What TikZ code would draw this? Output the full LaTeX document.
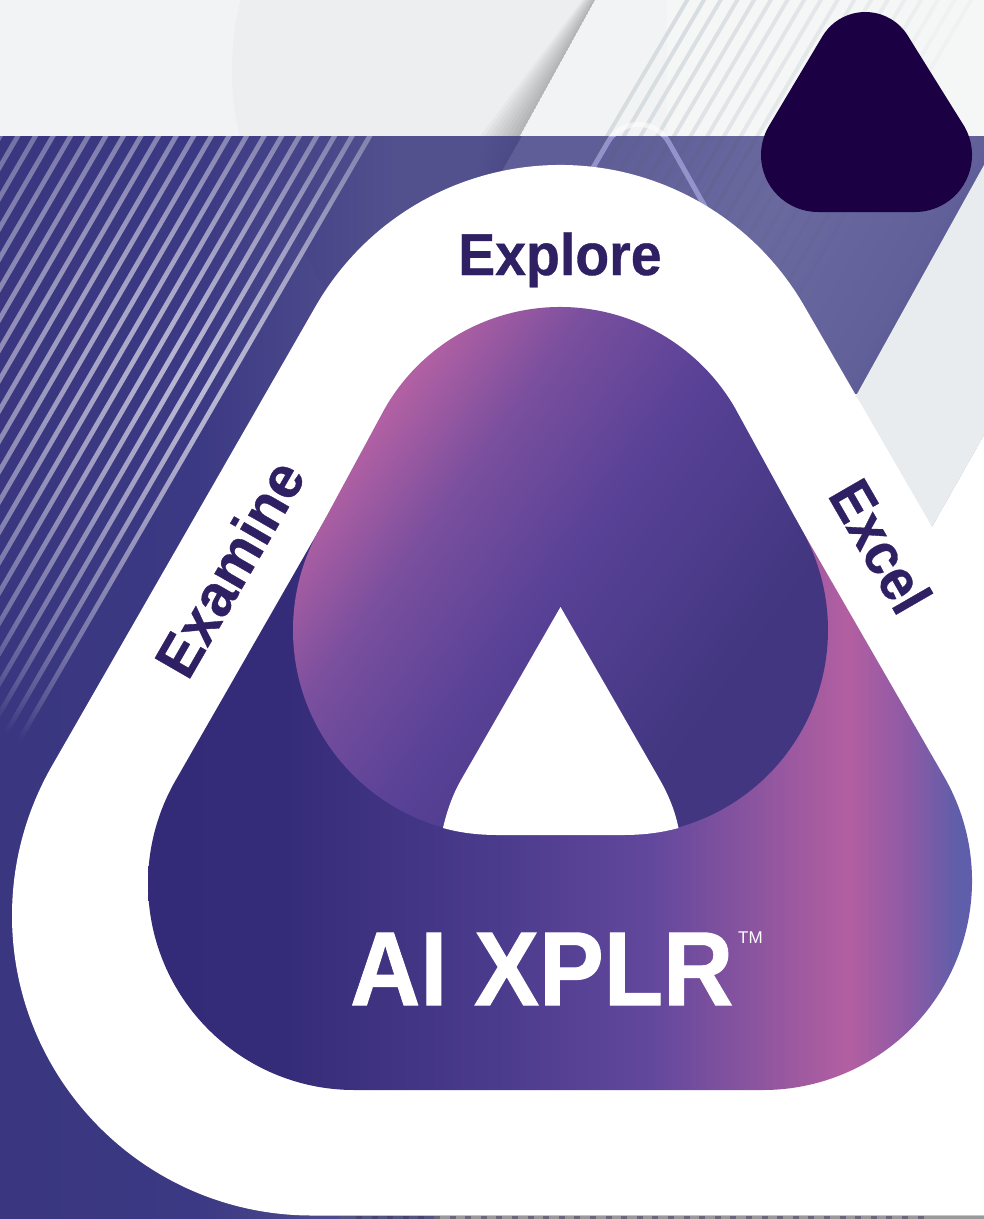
\documentclass[tikz,border=0pt]{standalone}
\usepackage{fontspec}
\usetikzlibrary{fadings}
\setmainfont{Liberation Sans}
\newfontfamily\heavyfont[FakeBold=0.6]{Liberation Sans Bold}
\newfontfamily\heavierfont[FakeBold=1.0]{Liberation Sans Bold}
\definecolor{ink}{HTML}{2F1F63}
\definecolor{darktri}{HTML}{1B0044}
\definecolor{toplight}{HTML}{F2F3F4}
\definecolor{circgray}{HTML}{ECEEF0}
\definecolor{wedge}{HTML}{E9ECEE}
\definecolor{lav}{HTML}{A5A4DC}
\definecolor{hatch}{HTML}{D5DBDF}
\definecolor{deepblue}{HTML}{2A2870}
\pgfdeclarehorizontalshading{bgshade}{100bp}{rgb(0bp)=(.227,.212,.5);rgb(25bp)=(.227,.212,.5);rgb(35bp)=(.235,.224,.518);rgb(45bp)=(.329,.322,.561);rgb(100bp)=(.329,.322,.561)}
\pgfdeclarehorizontalshading{lowshade}{100bp}{rgb(0bp)=(.2,.169,.471);rgb(25bp)=(.2,.169,.471);rgb(33.2bp)=(.208,.173,.475);rgb(45.3bp)=(.294,.231,.549);rgb(54.5bp)=(.384,.282,.616);rgb(60.3bp)=(.541,.329,.624);rgb(66bp)=(.702,.373,.631);rgb(69.5bp)=(.553,.353,.647);rgb(72.5bp)=(.369,.369,.667);rgb(100bp)=(.369,.369,.667)}
\pgfdeclarehorizontalshading{upshade}{100bp}{rgb(0bp)=(.69,.376,.639);rgb(29bp)=(.69,.376,.639);rgb(38bp)=(.478,.31,.62);rgb(50bp)=(.345,.255,.59);rgb(68bp)=(.255,.212,.498);rgb(100bp)=(.255,.212,.498)}
\pgfdeclarehorizontalshading{bandshade}{100bp}{rgb(0bp)=(.373,.369,.596);rgb(30bp)=(.373,.369,.596);rgb(50bp)=(.416,.412,.624);rgb(68bp)=(.38,.376,.6);rgb(75bp)=(.325,.32,.565);rgb(100bp)=(.325,.32,.565)}
\pgfdeclareradialshading{stripeS}{\pgfpointorigin}{gray(0bp)=(.66);gray(18bp)=(.5);gray(36bp)=(.3);gray(42bp)=(.18);gray(48bp)=(0);gray(50bp)=(0)}
\pgfdeclarefading{stripeF}{\pgfuseshading{stripeS}}
\tikzset{
  bigtext/.style={inner sep=0pt,anchor=base west,text=ink,font=\fontsize{59}{59}\selectfont\heavyfont},
  whitetext/.style={inner sep=0pt,anchor=base west,text=white},
}
\begin{document}
\begin{tikzpicture}[x=1pt,y=-1pt]
\useasboundingbox (0,0) rectangle (984,1219);
% top band
\fill[toplight] (0,0) rectangle (984,136);
\begin{scope}
  \clip (0,0) -- (595,0) -- (520,136) -- (0,136) -- cycle;
  \fill[circgray] (521,70) circle[radius=289];
  \foreach \w in {4,8,...,36}{\fill[black,opacity=.028] (595,0) -- (520,136) -- ({520-\w*1.1},136) -- ({595-\w*.35},0) -- cycle;}
\end{scope}
% right top stripes
\begin{scope}
  \clip (595,0) -- (520,136) -- (984,136) -- (984,0) -- cycle;
  \fill[white,opacity=.25] (667,0) rectangle (984,136);
  \foreach \k [evaluate=\k as \o using {max(.95-.05*\k,.15)}] in {0,...,17}{
    \fill[hatch,opacity=\o] ({685+16.7*\k},0) -- ({689.5+16.7*\k},0) -- ({609.5+16.7*\k},136) -- ({605+16.7*\k},136) -- cycle;}
\end{scope}
% purple background
\fill[shading=bgshade] (0,136) rectangle (984,1219);
\fill[deepblue,opacity=.04] (240,136) -- (323,287) -- (420,300) -- (522,136) -- cycle;
\foreach \w in {3,6,...,18}{\fill[deepblue,opacity=.012] (522,136) -- (490,192) -- ({490-\w},192) -- ({522-\w*2},136) -- cycle;}
\shade[shading=bandshade,shading angle=-30] (522,136) -- (984,136) -- (984,165) -- (857,394) -- (700,420) -- (480,210) -- cycle;
\begin{scope}
  \clip (522,136) -- (984,136) -- (984,165) -- (857,394) -- (700,420) -- (480,210) -- cycle;
  \foreach \k [evaluate=\k as \o using {max(.42-.02*\k,.08)}] in {0,...,17}{
    \fill[black!40!blue!25!gray,opacity=\o] ({605+16.7*\k},136) -- ({609+16.7*\k},136) -- ({609+16.7*\k-.588*300},436) -- ({605+16.7*\k-.588*300},436) -- cycle;}
\end{scope}
% pale wedge on the right
\fill[wedge] (984,165) -- (857,394) -- (845,394) -- (925,540) -- (932,527) -- (984,435) -- cycle;
% left stripes
\fill[white,path fading=stripeF,fit fading=false,fading transform={shift={(200,380)},scale=8.4}]
  \foreach \k in {0,...,21}{
    ({367-17.6*\k},136) -- ({372.5-17.6*\k},136) -- ({372.5-17.6*\k-.58*700},836) -- ({367-17.6*\k-.58*700},836) -- cycle
  };
% lavender outline
\begin{scope}
  \clip (0,0) rectangle (984,136);
  \draw[white,opacity=.55,line width=5pt] (590,173) -- (608,142) arc[start angle=210,end angle=330,radius=35] -- (708,212);
\end{scope}
\begin{scope}
  \clip (0,136) rectangle (984,300);
  \draw[lav,opacity=.75,line width=5pt] (590,173) -- (608,142) arc[start angle=210,end angle=330,radius=35] -- (708,212);
\end{scope}
% bottom strip
\fill[black!50!blue!35!gray] (340,1215.5) rectangle (434,1219);
\fill[gray!80!white] (434,1215.5) rectangle (984,1219);
\foreach \k in {0,...,36}{\fill[darktri!60!gray,opacity=.5] ({356+15.6*\k},1215.5) rectangle ({362+15.6*\k},1219);}
% dark triangle
\fill[darktri] (822,37) arc[start angle=210,end angle=330,radius=50] -- (964.4,126.5) arc[start angle=-30,end angle=90,radius=57] -- (818,212) arc[start angle=90,end angle=210,radius=57] -- cycle;
% white outer shape
\fill[white] (315.8,306) arc[start angle=210,end angle=330,radius=282] -- (932,527) -- (984,435) -- (984,1215.5) -- (312,1215.5) arc[start angle=90,end angle=210,radius=300] -- cycle;
% lower gradient shape
\shade[shading=lowshade] (175.7,780.2) -- (326,518) -- (795,518) -- (944,776.5) arc[start angle=-30,end angle=90,radius=209] -- (354.5,1090) arc[start angle=90,end angle=210,radius=206.5] -- cycle;
% upper gradient shape
\shade[shading=upshade,shading angle=-35.6] (385.1,408) arc[start angle=210,end angle=330,radius=202] -- (800.5,527.5) arc[start angle=-30,end angle=90,radius=205] -- (498,835) arc[start angle=90,end angle=210,radius=205] -- cycle;
% white inner triangle
\fill[white] (560.5,607) -- (660,780) .. controls (669,796) and (675,811) .. (678.5,828) .. controls (660,833) and (642,835) .. (623,835) -- (498,835) .. controls (479,835) and (461,833) .. (443,828) .. controls (447,811) and (452,796) .. (461,780) -- cycle;
% texts
\node[bigtext] (explore) at (458,275) {\scalebox{.94}[1]{Explore}};
\node[bigtext,rotate=60] (examine) at (188,682) {\scalebox{.98}[1]{Examine}};
\node[bigtext,rotate=-60] (excel) at (827,495) {\scalebox{.92}[1]{Excel}};
\node[whitetext,font=\fontsize{105}{105}\selectfont\heavierfont] (xplr) at (350,1005) {\scalebox{.925}[1]{AI XPLR}};
\node[whitetext,font=\fontsize{17}{17}\selectfont] (tm) at (738,943) {TM};
\end{tikzpicture}
\end{document}
